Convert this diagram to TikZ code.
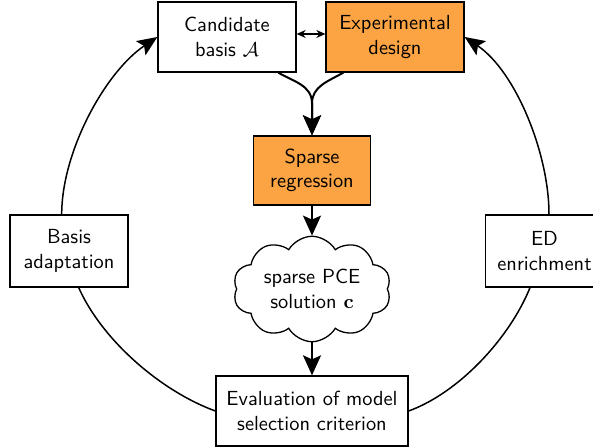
\documentclass[tikz,border=0pt]{standalone}
\usetikzlibrary{shapes.symbols,arrows.meta,calc}
\definecolor{boxorange}{RGB}{252,164,68}
\begin{document}
\begin{tikzpicture}[x=0.5pt,y=0.5pt,
  font=\sffamily\fontsize{10.2}{12.3}\selectfont,
  box/.style={draw,line width=0.65pt,align=center,inner sep=0pt},
  hot/.style={box,fill=boxorange},
  arr/.style={line width=1pt,-{Stealth[length=10pt,width=9pt,inset=2pt]}},
  ring/.style={line width=0.75pt},
  ringarr/.style={line width=0.75pt,-{Stealth[length=10pt,width=8.5pt,inset=2pt]}}]
\useasboundingbox (0,0) rectangle (593,448);
\node[box,minimum width=69pt,minimum height=35pt] (cand) at (227,411) {Candidate\\basis $\mathcal{A}$};
\node[hot,minimum width=69pt,minimum height=35pt] (exp) at (395,411) {Experimental\\design};
\node[hot,minimum width=58.5pt,minimum height=34.5pt] (sparse) at (312,277.5) {Sparse\\regression};
\node[cloud,draw,line width=0.65pt,cloud puffs=10,cloud puff arc=120,aspect=1.6,
  minimum width=79pt,minimum height=49pt,inner sep=0pt,align=center] (cloud) at (312,159) {sparse PCE\\solution $\mathbf{c}$};
\node[box,minimum width=96pt,minimum height=35pt] (eval) at (312,37) {Evaluation of model\\selection criterion};
\node[box,minimum width=59pt,minimum height=36pt] (basis) at (69,197) {Basis\\adaptation};
\node[box,minimum width=59pt,minimum height=36pt] (ed) at (544.5,197) {ED\\enrichment};
\coordinate (merge) at ($(sparse.north)+(0,32)$);
% merge arrows
\draw[arr] ([xshift=25.65pt]cand.south) to[out=-30,in=90] (merge) -- (sparse.north);
\draw[arr] ([xshift=-25.85pt]exp.south) to[out=-150,in=90] (merge) -- (sparse.north);
\draw[line width=0.6pt,{Stealth[length=4.5pt,width=4pt]}-{Stealth[length=4.5pt,width=4pt]}]
  ([yshift=1.5pt]cand.east) -- ([yshift=1.5pt]exp.west);
\draw[arr] (sparse) -- (cloud);
\draw[arr] (cloud) -- (eval);
% ring
\draw[ringarr] ([xshift=-3.65pt]basis.north) to[out=90,in=-146,looseness=0.8] (cand.west);
\draw[ringarr] ([xshift=2.25pt]ed.north) to[out=90,in=-34,looseness=0.8] (exp.east);
\draw[ring] ([xshift=4.85pt]basis.south) to[out=-66,in=160,looseness=0.8] (eval.west);
\draw[ring] ([xshift=-7.25pt]ed.south) to[out=-112,in=20,looseness=0.8] (eval.east);
\end{tikzpicture}
\end{document}
